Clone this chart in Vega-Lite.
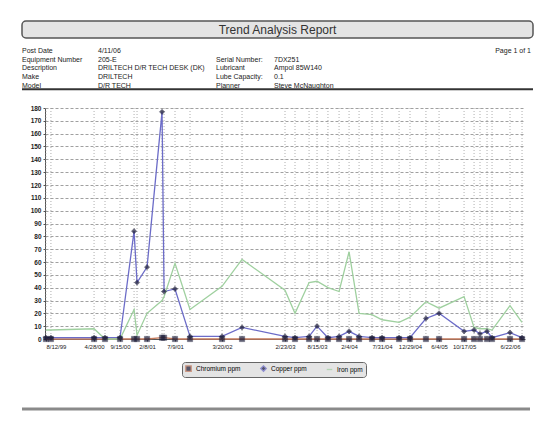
{
  "$schema": "https://vega.github.io/schema/vega-lite/v6.json",
  "background": "white",
  "padding": {"left": 20, "top": 20, "right": 10, "bottom": 10},
  "config": {
    "font": "Liberation Sans",
    "view": {"stroke": null},
    "axis": {"labelFont": "Liberation Sans", "labelColor": "#222"}
  },
  "datasets": {
    "header": [
      {"row": 1, "slot": "label1", "text": "Post Date"},
      {"row": 1, "slot": "value1", "text": "4/11/06"},
      {"row": 1, "slot": "page", "text": "Page 1 of 1"},
      {"row": 2, "slot": "label1", "text": "Equipment Number"},
      {"row": 2, "slot": "value1", "text": "205-E"},
      {"row": 2, "slot": "label2", "text": "Serial Number:"},
      {"row": 2, "slot": "value2", "text": "7DX251"},
      {"row": 3, "slot": "label1", "text": "Description"},
      {"row": 3, "slot": "value1", "text": "DRILTECH D/R TECH DESK (DK)"},
      {"row": 3, "slot": "label2", "text": "Lubricant"},
      {"row": 3, "slot": "value2", "text": "Ampol 85W140"},
      {"row": 4, "slot": "label1", "text": "Make"},
      {"row": 4, "slot": "value1", "text": "DRILTECH"},
      {"row": 4, "slot": "label2", "text": "Lube Capacity:"},
      {"row": 4, "slot": "value2", "text": "0.1"},
      {"row": 5, "slot": "label1", "text": "Model"},
      {"row": 5, "slot": "value1", "text": "D/R TECH"},
      {"row": 5, "slot": "label2", "text": "Planner"},
      {"row": 5, "slot": "value2", "text": "Steve McNaughton"}
    ],
    "samples": [
      {"date": "1999/08/12", "Chromium ppm": 0, "Copper ppm": 1, "Iron ppm": 7},
      {"date": "1999/09/08", "Chromium ppm": 0, "Copper ppm": 1, "Iron ppm": 7},
      {"date": "2000/04/28", "Chromium ppm": 0, "Copper ppm": 1, "Iron ppm": 8},
      {"date": "2000/06/26", "Chromium ppm": 0, "Copper ppm": 1, "Iron ppm": 0},
      {"date": "2000/09/15", "Chromium ppm": 0, "Copper ppm": 1, "Iron ppm": 0},
      {"date": "2000/11/30", "Chromium ppm": 0, "Copper ppm": 84, "Iron ppm": 23},
      {"date": "2000/12/16", "Chromium ppm": 0, "Copper ppm": 44, "Iron ppm": 3},
      {"date": "2001/02/08", "Chromium ppm": 0, "Copper ppm": 56, "Iron ppm": 20},
      {"date": "2001/04/30", "Chromium ppm": 1, "Copper ppm": 177, "Iron ppm": 30},
      {"date": "2001/05/11", "Chromium ppm": 1, "Copper ppm": 37, "Iron ppm": 33},
      {"date": "2001/07/09", "Chromium ppm": 0, "Copper ppm": 39, "Iron ppm": 59},
      {"date": "2001/09/28", "Chromium ppm": 0, "Copper ppm": 2, "Iron ppm": 23},
      {"date": "2002/03/20", "Chromium ppm": 0, "Copper ppm": 2, "Iron ppm": 41},
      {"date": "2002/07/06", "Chromium ppm": 0, "Copper ppm": 9, "Iron ppm": 62},
      {"date": "2003/02/23", "Chromium ppm": 0, "Copper ppm": 2, "Iron ppm": 38},
      {"date": "2003/04/18", "Chromium ppm": 0, "Copper ppm": 1, "Iron ppm": 20},
      {"date": "2003/07/03", "Chromium ppm": 0, "Copper ppm": 2, "Iron ppm": 44},
      {"date": "2003/08/15", "Chromium ppm": 0, "Copper ppm": 10, "Iron ppm": 45},
      {"date": "2003/10/13", "Chromium ppm": 0, "Copper ppm": 1, "Iron ppm": 40},
      {"date": "2003/12/12", "Chromium ppm": 0, "Copper ppm": 2, "Iron ppm": 37},
      {"date": "2004/02/04", "Chromium ppm": 0, "Copper ppm": 6, "Iron ppm": 68},
      {"date": "2004/03/29", "Chromium ppm": 0, "Copper ppm": 2, "Iron ppm": 20},
      {"date": "2004/06/07", "Chromium ppm": 0, "Copper ppm": 1, "Iron ppm": 19},
      {"date": "2004/07/31", "Chromium ppm": 0, "Copper ppm": 1, "Iron ppm": 15},
      {"date": "2004/10/31", "Chromium ppm": 0, "Copper ppm": 1, "Iron ppm": 13},
      {"date": "2004/12/29", "Chromium ppm": 0, "Copper ppm": 1, "Iron ppm": 17},
      {"date": "2005/03/25", "Chromium ppm": 0, "Copper ppm": 16, "Iron ppm": 29},
      {"date": "2005/06/04", "Chromium ppm": 0, "Copper ppm": 20, "Iron ppm": 24},
      {"date": "2005/10/17", "Chromium ppm": 0, "Copper ppm": 6, "Iron ppm": 33},
      {"date": "2005/12/10", "Chromium ppm": 0, "Copper ppm": 7, "Iron ppm": 9},
      {"date": "2006/01/11", "Chromium ppm": 0, "Copper ppm": 4, "Iron ppm": 8},
      {"date": "2006/02/18", "Chromium ppm": 0, "Copper ppm": 6, "Iron ppm": 8},
      {"date": "2006/03/17", "Chromium ppm": 0, "Copper ppm": 1, "Iron ppm": 7},
      {"date": "2006/06/22", "Chromium ppm": 0, "Copper ppm": 5, "Iron ppm": 26},
      {"date": "2006/08/26", "Chromium ppm": 0, "Copper ppm": 1, "Iron ppm": 13}
    ]
  },
  "concat": [
    {
      "width": 511,
      "height": 17,
      "view": {"fill": "#e4e4e4", "stroke": "#555", "strokeWidth": 1.5, "cornerRadius": 4},
      "data": {"values": [{"t": "Trend Analysis Report"}]},
      "mark": {"type": "text", "fontSize": 12, "color": "#333", "baseline": "middle", "align": "center"},
      "encoding": {"text": {"field": "t"}}
    },
    {
      "width": 511,
      "height": 57,
      "data": {"name": "header"},
      "layer": [
        {"transform": [{"filter": "datum.slot === 'label1'"}], "mark": {"type": "text", "align": "left", "fontSize": 7, "color": "#222"},
         "encoding": {"x": {"value": 0}, "y": {"field": "row", "type": "quantitative", "scale": {"domain": [0.4, 6.1], "reverse": true}, "axis": null}, "text": {"field": "text"}}},
        {"transform": [{"filter": "datum.slot === 'value1'"}], "mark": {"type": "text", "align": "left", "fontSize": 7, "color": "#222"},
         "encoding": {"x": {"value": 76}, "y": {"field": "row", "type": "quantitative"}, "text": {"field": "text"}}},
        {"transform": [{"filter": "datum.slot === 'label2'"}], "mark": {"type": "text", "align": "left", "fontSize": 7, "color": "#222"},
         "encoding": {"x": {"value": 194}, "y": {"field": "row", "type": "quantitative"}, "text": {"field": "text"}}},
        {"transform": [{"filter": "datum.slot === 'value2'"}], "mark": {"type": "text", "align": "left", "fontSize": 7, "color": "#222"},
         "encoding": {"x": {"value": 252}, "y": {"field": "row", "type": "quantitative"}, "text": {"field": "text"}}},
        {"transform": [{"filter": "datum.slot === 'page'"}], "mark": {"type": "text", "align": "right", "fontSize": 7, "color": "#222"},
         "encoding": {"x": {"value": 509}, "y": {"field": "row", "type": "quantitative"}, "text": {"field": "text"}}},
        {"transform": [{"filter": "datum.slot === 'page'"}], "mark": {"type": "rule", "color": "#333", "strokeWidth": 2},
         "encoding": {"y": {"datum": 5.4, "type": "quantitative"}}}
      ]
    },
    {
      "spacing": 0,
      "hconcat": [
        {
          "width": 1,
          "height": 1,
          "data": {"values": [{}]},
          "mark": {"type": "text"},
          "encoding": {"text": {"value": ""}}
        },
        {
          "width": 480,
          "height": 231,
          "data": {"name": "samples"},
          "encoding": {
            "x": {
              "field": "date", "type": "temporal",
              "scale": {"type": "time", "domain": [{"year": 1999, "month": 8, "date": 7}, {"year": 2006, "month": 9, "date": 11}]},
              "axis": {
                "title": null, "grid": false, "format": "%-m/%-d/%y", "labelFontSize": 6, "labelAngle": 0,
                "tickSize": 2, "labelPadding": 2, "domainColor": "#555", "tickColor": "#555", "labelOverlap": false,
                "values": [
                  {"year": 1999, "month": 8, "date": 12},
                  {"year": 2000, "month": 4, "date": 28},
                  {"year": 2000, "month": 9, "date": 15},
                  {"year": 2001, "month": 2, "date": 8},
                  {"year": 2001, "month": 7, "date": 9},
                  {"year": 2002, "month": 3, "date": 20},
                  {"year": 2003, "month": 2, "date": 23},
                  {"year": 2003, "month": 8, "date": 15},
                  {"year": 2004, "month": 2, "date": 4},
                  {"year": 2004, "month": 7, "date": 31},
                  {"year": 2004, "month": 12, "date": 29},
                  {"year": 2005, "month": 6, "date": 4},
                  {"year": 2005, "month": 10, "date": 17},
                  {"year": 2006, "month": 6, "date": 22}
                ]
              }
            }
          },
          "layer": [
            {
              "mark": {"type": "rule", "color": "#999", "strokeDash": [1, 2], "strokeWidth": 0.8}
            },
            {
              "transform": [{"fold": ["Chromium ppm", "Copper ppm", "Iron ppm"], "as": ["series", "value"]}],
              "encoding": {
                "y": {
                  "field": "value", "type": "quantitative",
                  "scale": {"domain": [0, 180], "nice": false},
                  "axis": {
                    "title": null, "values": [0,10,20,30,40,50,60,70,80,90,100,110,120,130,140,150,160,170,180],
                    "grid": true, "gridDash": [3, 2], "gridColor": "#888", "gridWidth": 0.8, "labelOverlap": false,
                    "labelFontSize": 6.5, "labelFontWeight": "bold", "tickSize": 2, "labelPadding": 2,
                    "domainColor": "#555", "tickColor": "#555", "minExtent": 22
                  }
                },
                "color": {
                  "field": "series", "type": "nominal",
                  "scale": {"domain": ["Chromium ppm", "Copper ppm", "Iron ppm"], "range": ["#c47a5c", "#6c6cc8", "#9fd09f"]},
                  "legend": {
                    "title": null, "orient": "none", "legendX": 160, "legendY": 341, "direction": "horizontal",
                    "fillColor": "#e4e4e4", "strokeColor": "#666", "cornerRadius": 3, "padding": 3,
                    "labelFontSize": 6.5, "symbolSize": 30, "columnPadding": 17, "symbolStrokeWidth": 1.3
                  }
                }
              },
              "layer": [
                {
                  "mark": {"type": "line", "strokeWidth": 1.3}
                },
                {
                  "transform": [{"filter": "datum.series !== 'Iron ppm'"}],
                  "mark": {"type": "point", "filled": true, "size": 28, "stroke": "#1c1c38", "strokeWidth": 0.5},
                  "encoding": {
                    "fill": {"value": "#1c1c38"},
                    "shape": {
                      "field": "series", "type": "nominal",
                      "scale": {"domain": ["Chromium ppm", "Copper ppm", "Iron ppm"], "range": ["square", "diamond", "stroke"]}
                    }
                  }
                }
              ]
            }
          ]
        }
      ]
    },
    {
      "width": 508,
      "height": 57,
      "data": {"values": [{}]},
      "mark": {"type": "rule", "color": "#8a8a8a", "strokeWidth": 3},
      "encoding": {"y": {"datum": 0, "type": "quantitative", "scale": {"domain": [0, 1]}, "axis": null}}
    }
  ],
  "columns": 1,
  "align": "none",
  "spacing": 3
}
